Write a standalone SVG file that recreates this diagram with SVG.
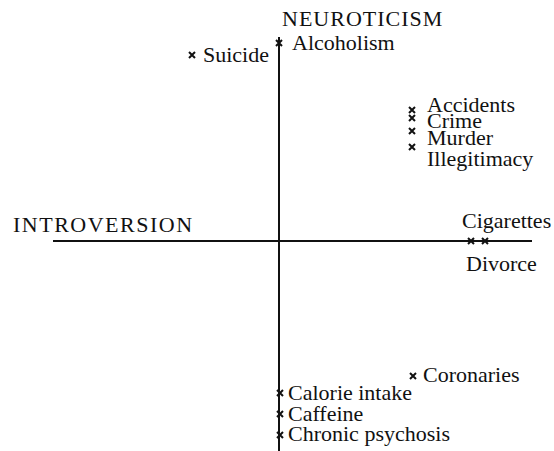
<svg xmlns="http://www.w3.org/2000/svg" xmlns:xlink="http://www.w3.org/1999/xlink" width="554" height="451" viewBox="0 0 554 451">
<style>
text{font-family:"Liberation Serif","Times New Roman",serif;font-size:22px;fill:#111}
.axis{stroke:#111;stroke-width:2;fill:none}
.cx{stroke:#111;stroke-width:2;fill:none}
</style>
<defs>
<path id="x" class="cx" d="M-3,-3L3,3M3,-3L-3,3"/>
</defs>
<rect width="554" height="451" fill="#fff"/>
<g id="connectors">
<line class="axis" x1="279" y1="37" x2="279" y2="451"/>
<line class="axis" x1="53" y1="241" x2="532" y2="241" stroke-width="1.6"/>
</g>
<g id="neuroticism"><text x="282" y="26" letter-spacing="1">NEUROTICISM</text></g>
<g id="introversion"><text x="13" y="232" letter-spacing="1.5">INTROVERSION</text></g>
<g id="suicide"><use xlink:href="#x" x="192" y="55"/><text x="203" y="62">Suicide</text></g>
<g id="alcoholism"><use xlink:href="#x" x="279" y="43"/><text x="292" y="50">Alcoholism</text></g>
<g id="accidents"><use xlink:href="#x" x="412" y="110"/><text x="427" y="112">Accidents</text></g>
<g id="crime"><use xlink:href="#x" x="412" y="118"/><text x="427" y="128">Crime</text></g>
<g id="murder"><use xlink:href="#x" x="412" y="131"/><text x="427" y="145">Murder</text></g>
<g id="illegitimacy"><use xlink:href="#x" x="412" y="147"/><text x="427" y="166">Illegitimacy</text></g>
<g id="cigarettes"><use xlink:href="#x" x="471" y="241"/><text x="462" y="228">Cigarettes</text></g>
<g id="divorce"><use xlink:href="#x" x="485" y="241"/><text x="466" y="271">Divorce</text></g>
<g id="coronaries"><use xlink:href="#x" x="413" y="376"/><text x="423" y="382">Coronaries</text></g>
<g id="calorie"><use xlink:href="#x" x="280" y="393"/><text x="288" y="400">Calorie intake</text></g>
<g id="caffeine"><use xlink:href="#x" x="280" y="414"/><text x="288" y="421">Caffeine</text></g>
<g id="psychosis"><use xlink:href="#x" x="280" y="435"/><text x="288" y="441">Chronic psychosis</text></g>
</svg>
